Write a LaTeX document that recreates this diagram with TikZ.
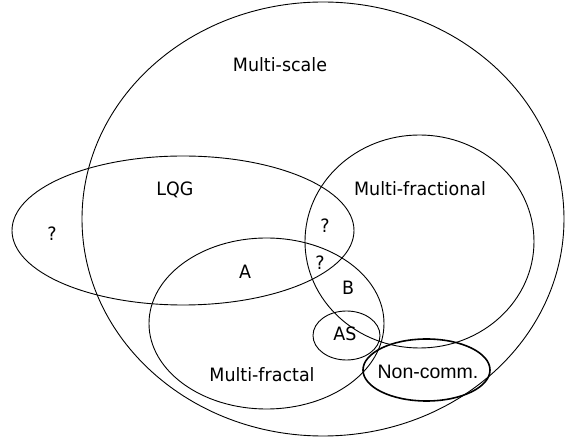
\documentclass[tikz,border=0pt]{standalone}
\usepackage{fontspec}
\setmainfont{DejaVu Sans}[FakeStretch=0.95]
\newfontfamily\arialfont{Liberation Sans}
\tikzset{
  setline/.style={draw=black, line width=0.9pt},
  thickset/.style={draw=black, line width=1.6pt},
  lbl/.style={font=\fontsize{18.4pt}{21pt}\selectfont, inner sep=0pt, anchor=center},
  lblarial/.style={font=\arialfont\fontsize{19.5pt}{22pt}\selectfont, inner sep=0pt, anchor=center}
}
\begin{document}
\begin{tikzpicture}[x=1pt, y=-1pt]
\useasboundingbox (0,0) rectangle (566,438);
\fill[white] (0,0) rectangle (566,438);
% sets
\draw[setline] (323,219) ellipse [x radius=241pt, y radius=217pt];
\draw[setline] (183,230.5) ellipse [x radius=171pt, y radius=74.5pt];
\draw[setline] (419.5,241.5) ellipse [x radius=114.5pt, y radius=106.5pt];
\draw[setline] (266.5,323.5) ellipse [x radius=117.5pt, y radius=85.5pt];
\draw[setline] (346.5,335.5) ellipse [x radius=33.5pt, y radius=24.5pt];
\draw[thickset] (426.5,370) ellipse [x radius=63.5pt, y radius=31pt];
% labels
\node[lbl] (ms) at (280,65) {Multi-scale};
\node[lbl] (lqg) at (175,190) {LQG};
\node[lbl] (q1) at (52,234) {?};
\node[lbl] (mfl) at (420,189) {Multi-fractional};
\node[lbl] (q2) at (325,226) {?};
\node[lbl] (q3) at (320,263) {?};
\node[lbl] (a) at (245,272) {A};
\node[lbl] (b) at (348,288) {B};
\node[lbl] (as) at (345,334) {AS};
\node[lbl] (mf) at (262,375) {Multi-fractal};
\node[lblarial] (nc) at (428,372) {Non-comm.};
\end{tikzpicture}
\end{document}
